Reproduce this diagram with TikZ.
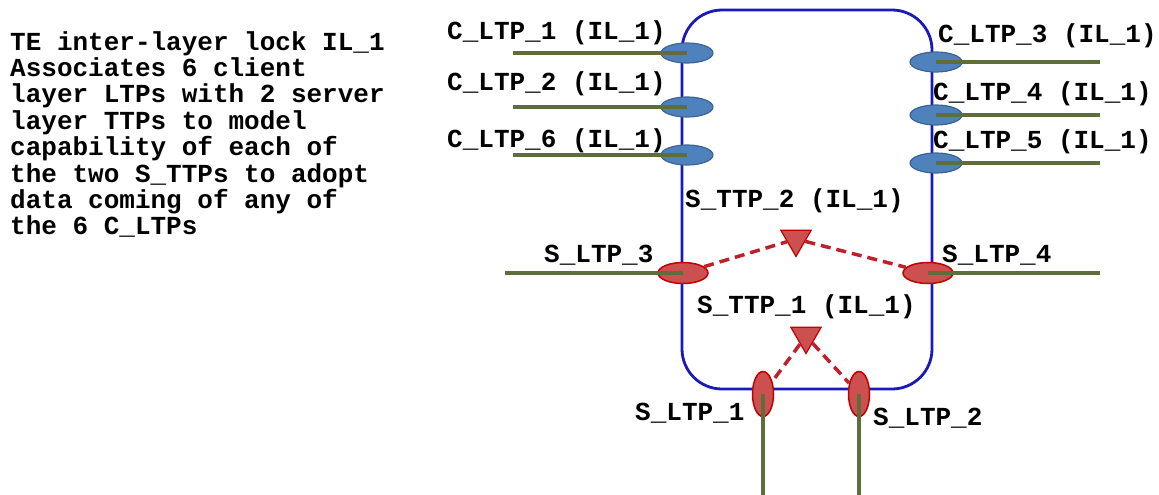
\documentclass[tikz,border=0pt]{standalone}
\usepackage{fontspec}
\setmainfont{Liberation Mono}
\usetikzlibrary{shapes.geometric}
\definecolor{blueFill}{HTML}{4F81BD}
\definecolor{blueEdge}{HTML}{3A6496}
\definecolor{redFill}{HTML}{CC5050}
\definecolor{redEdge}{HTML}{C00000}
\definecolor{wireGreen}{HTML}{5F6D3A}
\definecolor{rectBlue}{HTML}{1A1AB8}
\definecolor{linkRed}{HTML}{C0202A}
\begin{document}
\begin{tikzpicture}[x=1pt,y=-1pt,
  cport/.style={ellipse, draw=blueEdge, fill=blueFill, line width=1.2pt, minimum width=52pt, minimum height=20pt, inner sep=0},
  sport/.style={ellipse, draw=redEdge, fill=redFill, line width=1.5pt, minimum width=50pt, minimum height=21pt, inner sep=0},
  vsport/.style={ellipse, draw=redEdge, fill=redFill, line width=1.5pt, minimum width=21pt, minimum height=45pt, inner sep=0},
  ttp/.style={regular polygon, regular polygon sides=3, shape border rotate=180, draw=redEdge, fill=redFill, line width=1.2pt, minimum size=35pt, inner sep=0},
  wire/.style={draw=wireGreen, line width=3.5pt},
  link/.style={draw=linkRed, dash pattern=on 10pt off 6pt, line width=3.5pt},
  lbl/.style={font=\fontsize{26}{26}\selectfont\bfseries, anchor=base west, inner sep=0}]
\useasboundingbox (0,0) rectangle (1159,495);

% description
\node[anchor=north west, inner sep=0, align=left, font=\fontsize{26}{26.4}\selectfont\bfseries] (desc) at (10,31)
{TE inter-layer lock IL\_1\\Associates 6 client\\layer LTPs with 2 server\\layer TTPs to model\\capability of each of\\the two S\_TTPs to adopt\\data coming of any of\\the 6 C\_LTPs};

% inter-layer lock box
\node[draw=rectBlue, line width=2.8pt, rounded corners=40pt, minimum width=250pt, minimum height=379pt, inner sep=0] (il) at (807,199.5) {};

% client LTPs
\node[cport] (c1) at (687,53) {};
\node[cport] (c2) at (687,107) {};
\node[cport] (c6) at (687,155) {};
\node[cport] (c3) at (936,62) {};
\node[cport] (c4) at (936,115) {};
\node[cport] (c5) at (936,163) {};

% server LTPs
\node[sport] (s3) at (683,273) {};
\node[sport] (s4) at (928,273) {};
\node[vsport] (s1) at (763,394) {};
\node[vsport] (s2) at (859,394) {};

% TTPs
\node[ttp] (t2) at (796,239) {};
\node[ttp] (t1) at (806,336) {};

% free ends
\coordinate (c1w) at (513,53);
\coordinate (c2w) at (513,107);
\coordinate (c6w) at (513,155);
\coordinate (c3w) at (1100,62);
\coordinate (c4w) at (1100,115);
\coordinate (c5w) at (1100,163);
\coordinate (s3w) at (505,273);
\coordinate (s4w) at (1100,273);
\coordinate (s1w) at (763,495);
\coordinate (s2w) at (859,495);

\draw[wire] (c1w) -- (c1.center);
\draw[wire] (c2w) -- (c2.center);
\draw[wire] (c6w) -- (c6.center);
\draw[wire] (c3.center) -- (c3w);
\draw[wire] (c4.center) -- (c4w);
\draw[wire] (c5.center) -- (c5w);
\draw[wire] (s3w) -- (s3.center);
\draw[wire] (s4.center) -- (s4w);
\draw[wire] (s1.center) -- (s1w);
\draw[wire] (s2.center) -- (s2w);

% dashed associations
\draw[link] (s3) -- (t2);
\draw[link] (t2) -- (s4);
\draw[link] (t1) -- (s1);
\draw[link] (t1) -- (s2);

% labels
\node[lbl] (lc1) at (447,40) {C\_LTP\_1 (IL\_1)};
\node[lbl] (lc2) at (447,90) {C\_LTP\_2 (IL\_1)};
\node[lbl] (lc6) at (447,147) {C\_LTP\_6 (IL\_1)};
\node[lbl] (lc3) at (938,43) {C\_LTP\_3 (IL\_1)};
\node[lbl] (lc4) at (933,100) {C\_LTP\_4 (IL\_1)};
\node[lbl] (lc5) at (933,148) {C\_LTP\_5 (IL\_1)};
\node[lbl] (lt2) at (685,207) {S\_TTP\_2 (IL\_1)};
\node[lbl] (ls3) at (544,262) {S\_LTP\_3};
\node[lbl] (ls4) at (942,262) {S\_LTP\_4};
\node[lbl] (lt1) at (697,313) {S\_TTP\_1 (IL\_1)};
\node[lbl] (ls1) at (635,420) {S\_LTP\_1};
\node[lbl] (ls2) at (873,425) {S\_LTP\_2};
\end{tikzpicture}
\end{document}
